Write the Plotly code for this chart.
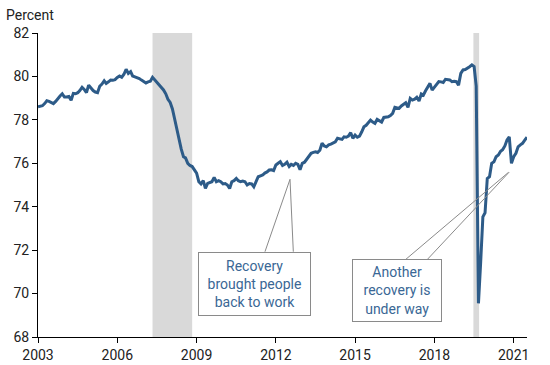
import pandas as pd
import plotly.graph_objects as go

# ---- data (monthly) ----
dates = pd.date_range("2003-08-01", periods=223, freq="MS")
epop = [
    78.60, 78.62, 78.65, 78.75, 78.88, 78.85, 78.80, 78.75, 78.85, 79.00,
    79.10, 79.20, 79.05, 79.05, 79.08, 78.90, 79.22, 79.20, 79.25, 79.35,
    79.50, 79.40, 79.25, 79.60, 79.45, 79.35, 79.28, 79.25, 79.55, 79.65,
    79.80, 79.68, 79.75, 79.83, 79.82, 79.85, 79.95, 80.02, 79.96, 80.10,
    80.33, 80.14, 80.22, 80.02, 79.98, 79.95, 79.90, 79.83, 79.78, 79.70,
    79.75, 79.78, 79.96, 79.85, 79.70, 79.60, 79.50, 79.38, 79.20, 78.95,
    78.80, 78.50, 78.05, 77.55, 77.00, 76.65, 76.30, 76.25, 76.00, 75.90,
    75.85, 75.70, 75.55, 75.15, 75.05, 75.20, 74.85, 75.07, 75.10, 75.15,
    75.35, 75.15, 75.20, 75.15, 75.05, 75.07, 75.00, 74.84, 75.15, 75.20,
    75.30, 75.20, 75.15, 75.18, 75.15, 75.00, 75.07, 75.05, 74.92, 75.15,
    75.38, 75.42, 75.46, 75.55, 75.60, 75.69, 75.70, 75.66, 75.92, 76.00,
    76.07, 75.90, 75.95, 76.05, 75.85, 75.95, 75.90, 76.00, 75.95, 75.70,
    76.00, 76.05, 76.20, 76.30, 76.46, 76.50, 76.53, 76.50, 76.60, 76.92,
    76.80, 76.76, 76.85, 76.88, 76.95, 76.99, 77.15, 77.12, 77.10, 77.22,
    77.20, 77.25, 77.41, 77.15, 77.30, 77.20, 77.25, 77.45, 77.68, 77.75,
    77.87, 77.99, 77.90, 77.84, 78.02, 77.95, 77.90, 78.11, 78.12, 78.14,
    78.20, 78.30, 78.58, 78.55, 78.53, 78.64, 78.70, 78.79, 78.58, 78.99,
    78.91, 78.95, 79.04, 78.87, 79.19, 79.14, 79.34, 79.53, 79.68, 79.37,
    79.50, 79.60, 79.76, 79.75, 79.72, 79.87, 79.85, 79.84, 79.76, 79.78,
    79.76, 79.60, 80.14, 80.30, 80.32, 80.37, 80.45, 80.53, 80.45, 79.55,
    69.55, 71.40, 73.53, 73.72, 75.30, 75.38, 76.00, 76.07, 76.30, 76.38,
    76.55, 76.62, 76.80, 77.07, 77.22, 76.00, 76.30, 76.46, 76.76, 76.85,
    76.92, 77.07, 77.20,
]
tick_labels = ["2003", "2006", "2009", "2012", "2015", "2018", "2021"]
y_ticks = [68, 70, 72, 74, 76, 78, 80, 82]
rec_start = ["2007-12-01", "2020-01-22"]
rec_end = ["2009-06-01", "2020-04-10"]
note1 = "Recovery<br>brought people<br>back to work"
note2 = "Another<br>recovery is<br>under way"

LINE = "#2d5b88"
TEXT_BLUE = "#3a6795"
GRAY_LINE = "#8a8a8a"
FONT = "Roboto"

fig = go.Figure()
fig.add_trace(go.Scatter(x=dates, y=epop, mode="lines",
                         line=dict(color=LINE, width=3), hoverinfo="skip"))

for s, e in zip(rec_start, rec_end):
    fig.add_vrect(x0=s, x1=e, fillcolor="#d9d9d9", line_width=0,
                  layer="below", y0=0, y1=1)

# plot area in window pixels: x 38.3..526.7, y 33..337
def px(xp):
    return (xp - 38.3) / 488.4

def py(yp):
    return (337 - yp) / 304.0

leaders = [
    ((265, 251.7), (290, 179.3)),
    ((293.3, 251.7), (290, 179.3)),
    ((405.7, 259.3), (508, 172.5)),
    ((427.3, 259.3), (509, 172)),
]
for (a, b) in leaders:
    fig.add_shape(type="line", xref="paper", yref="paper",
                  x0=px(a[0]), y0=py(a[1]), x1=px(b[0]), y1=py(b[1]),
                  line=dict(color=GRAY_LINE, width=1), layer="above")

fig.add_annotation(text=note1, xref="paper", yref="paper",
                   x=px(255), y=py(283.7), xanchor="center", yanchor="middle",
                   showarrow=False, font=dict(family=FONT, size=14, color=TEXT_BLUE),
                   bordercolor=GRAY_LINE, borderwidth=1, borderpad=2,
                   bgcolor="white", width=107, height=58)
fig.add_annotation(text=note2, xref="paper", yref="paper",
                   x=px(397.3), y=py(290.8), xanchor="center", yanchor="middle",
                   showarrow=False, font=dict(family=FONT, size=14, color=TEXT_BLUE),
                   bordercolor=GRAY_LINE, borderwidth=1, borderpad=2,
                   bgcolor="white", width=84, height=57)

fig.add_annotation(text="Percent", xref="paper", yref="paper",
                   x=px(4), y=py(15), xanchor="left", yanchor="middle",
                   showarrow=False, font=dict(family=FONT, size=14, color="#222222"))

fig.update_layout(
    width=550, height=365,
    margin=dict(l=38, r=23, t=33, b=28, autoexpand=False),
    paper_bgcolor="white", plot_bgcolor="white",
    showlegend=False, hovermode=False,
    font=dict(family=FONT, size=14, color="#222222"),
    xaxis=dict(type="date", range=[dates[0], dates[-1]],
               tickvals=list(dates[::36]), ticktext=tick_labels,
               showgrid=False, zeroline=False, showline=True, automargin=False,
               linecolor="black", linewidth=1, ticks="outside",
               ticklen=5, tickcolor="black", tickfont=dict(size=14)),
    yaxis=dict(range=[68, 82], tickvals=y_ticks,
               showgrid=False, zeroline=False, showline=True, automargin=False,
               linecolor="black", linewidth=1, ticks="outside",
               ticklen=5, tickcolor="black", tickfont=dict(size=14)),
)

# remove the browser's default 8px body margin so the figure sits at (0, 0)
fig.write_html("out.html",
               config={"displayModeBar": False, "staticPlot": True},
               post_script="document.body.style.margin='0px';")
